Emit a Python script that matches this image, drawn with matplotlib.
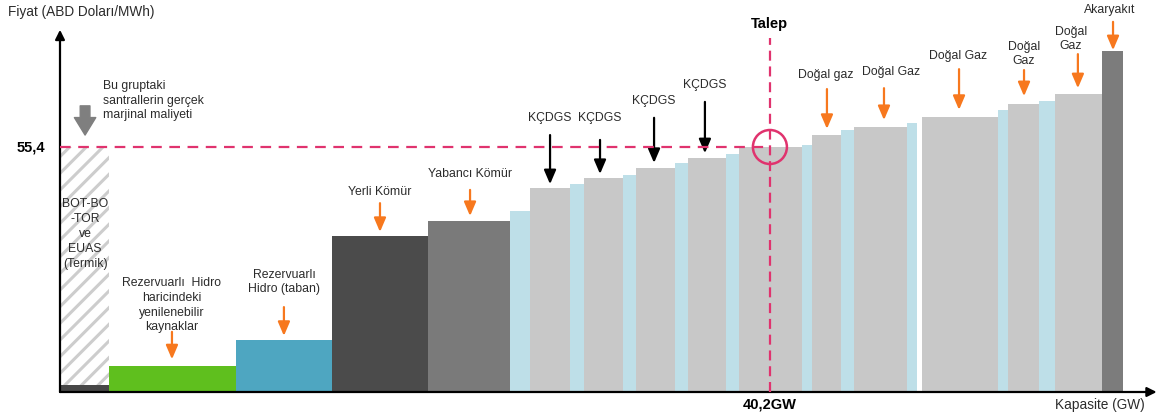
import numpy as np
import matplotlib
matplotlib.use('Agg')
import matplotlib.pyplot as plt
from matplotlib.patches import Ellipse

plt.rcParams['font.family'] = ['Liberation Sans', 'DejaVu Sans']
plt.rcParams['hatch.linewidth'] = 2.2

# merit order segments (left to right)
segment_types = ['BOT/EUAS', 'Yenilenebilir', 'Rez. Hidro', 'Yerli Kömür', 'Yabancı Kömür',
                 'Diğer', 'KÇDGS', 'Diğer', 'KÇDGS', 'Diğer', 'KÇDGS', 'Diğer', 'KÇDGS',
                 'Diğer', 'Doğal Gaz', 'Diğer', 'Doğal Gaz', 'Diğer', 'Doğal Gaz', 'Diğer',
                 'Boşluk', 'Doğal Gaz', 'Diğer', 'Doğal Gaz', 'Diğer', 'Doğal Gaz', 'Akaryakıt']
capacity_gw = [2.77, 7.20, 5.43, 5.44, 4.64, 1.13, 2.27, 0.79, 2.21, 0.74, 2.20, 0.74, 2.15,
               0.74, 3.57, 0.56, 1.64, 0.74, 3.00, 0.57, 0.28, 4.30, 0.57, 1.75, 0.91, 2.66, 1.19]
price_usd = [55.4, 5.9, 11.8, 35.3, 38.7, 40.9, 46.1, 47.0, 48.4, 49.1, 50.7, 51.8, 52.9,
             53.8, 55.4, 55.9, 58.1, 59.2, 59.9, 60.8, 0.0, 62.2, 63.8, 65.1, 65.8, 67.4, 77.1]
bot_actual_cost = 1.6
clearing_price = 55.4
demand_gw = 40.2

labels = ['Rezervuarlı  Hidro\nharicindeki\nyenilenebilir\nkaynaklar',
          'Rezervuarlı\nHidro (taban)', 'Yerli Kömür', 'Yabancı Kömür',
          'KÇDGS', 'KÇDGS', 'KÇDGS', 'KÇDGS',
          'Doğal gaz', 'Doğal Gaz', 'Doğal Gaz', 'Doğal\nGaz', 'Doğal\nGaz', 'Akaryakıt']

colors = {
    'Yenilenebilir': '#5fbf1e',
    'Rez. Hidro': '#4ea6c1',
    'Yerli Kömür': '#4b4b4b',
    'Yabancı Kömür': '#7a7a7a',
    'KÇDGS': '#c8c8c8',
    'Doğal Gaz': '#c8c8c8',
    'Diğer': '#bedfe8',
    'Akaryakıt': '#7c7c7c',
}
pink = '#e0336e'
orange = '#f7781e'
txt = '#2b2b2b'

fig = plt.figure(figsize=(11.57, 4.19), dpi=100)
ax = fig.add_axes([60 / 1157, 27 / 419, 1097 / 1157, 392 / 419])
ax.set_xlim(0, 62.12)
ax.set_ylim(0, 88.64)
ax.axis('off')

lefts = np.concatenate([[0], np.cumsum(capacity_gw)[:-1]])
for t, left, w, p in zip(segment_types, lefts, capacity_gw, price_usd):
    if t == 'Boşluk':
        continue
    if t == 'BOT/EUAS':
        ax.bar(left, p, w, align='edge', color='white', edgecolor='#cdcdcd',
               hatch='//', linewidth=0)
        ax.bar(left, bot_actual_cost, w, align='edge', color='#474747', linewidth=0)
    else:
        ax.bar(left, p, w, align='edge', color=colors[t], linewidth=0)

# axes with arrows
ax.annotate('', xy=(62.1, 0), xytext=(0, 0), annotation_clip=False,
            arrowprops=dict(arrowstyle='-|>', color='black', lw=1.6, mutation_scale=14,
                            shrinkA=0, shrinkB=0))
ax.annotate('', xy=(0, 81.9), xytext=(0, 0), annotation_clip=False,
            arrowprops=dict(arrowstyle='-|>', color='black', lw=1.6, mutation_scale=14,
                            shrinkA=0, shrinkB=0))

# price / demand lines
ax.plot([0, demand_gw], [clearing_price, clearing_price], color=pink, lw=1.6,
        dashes=(4.8, 3.4), zorder=5)
ax.plot([demand_gw, demand_gw], [0, 80.0], color=pink, lw=1.6, dashes=(4.5, 2.6), zorder=5)
ax.add_patch(Ellipse((demand_gw, clearing_price), 34 / 17.66, 34 / 4.4224, fill=False,
                     edgecolor=pink, lw=1.8, zorder=6))

ax.text(-2.94, 85.9, 'Fiyat (ABD Doları/MWh)', fontsize=9.8, color=txt, ha='left',
        va='center', clip_on=False)
ax.text(-0.85, clearing_price, f'{clearing_price}'.replace('.', ','),
        fontsize=10.5, fontweight='bold', color='black', ha='right', va='center')
ax.text(demand_gw, 83.2, 'Talep', fontsize=10.5, fontweight='bold', color='black',
        ha='center', va='center')
ax.text(demand_gw, -2.9, f'{demand_gw}GW'.replace('.', ','), fontsize=10.5,
        fontweight='bold', color='black', ha='center', va='center', clip_on=False)
ax.text(58.9, -2.9, 'Kapasite (GW)', fontsize=9.8, color=txt, ha='center', va='center',
        clip_on=False)

ax.text(2.43, 65.9, 'Bu gruptaki\nsantrallerin gerçek\nmarjinal maliyeti', fontsize=8.8,
        color=txt, ha='left', va='center', linespacing=1.3)
ax.annotate('', xy=(1.42, 58.1), xytext=(1.42, 64.7),
            arrowprops=dict(arrowstyle='simple,head_width=1.1,head_length=0.9,tail_width=0.5',
                            color='#7f7f7f', mutation_scale=14, shrinkA=0, shrinkB=0))
ax.text(1.42, 35.7, 'BOT-BO\n-TOR\nve\nEUAS\n(Termik)', fontsize=8.8, color=txt,
        ha='center', va='center', linespacing=1.33, zorder=4)

# labels with arrows: (text x, text y, arrow x, arrow start y, arrow end y)
label_pos = [(6.34, 19.6, 6.34, 13.6, 7.4), (12.68, 24.9, 12.68, 19.2, 12.7),
             (18.12, 45.2, 18.12, 42.7, 36.2), (23.22, 49.3, 23.22, 45.7, 39.8),
             (27.75, 62.0, 27.75, 58.1, 47.0), (30.58, 62.0, 30.58, 57.0, 49.3),
             (33.64, 65.8, 33.64, 62.0, 51.8), (36.52, 69.4, 36.52, 65.6, 54.0),
             (43.34, 71.7, 43.43, 68.5, 59.5), (47.06, 72.4, 46.66, 68.7, 61.5),
             (50.86, 76.0, 50.91, 73.0, 63.8), (54.59, 76.4, 54.59, 72.8, 66.9),
             (57.25, 79.8, 57.64, 76.4, 68.7), (59.46, 86.4, 59.63, 83.7, 77.3)]
for lab, (tx, ty, x, y0, y1) in zip(labels, label_pos):
    c = 'black' if lab == 'KÇDGS' else orange
    ax.text(tx, ty, lab, fontsize=8.8, color=txt, ha='center', va='center', linespacing=1.3)
    ax.annotate('', xy=(x, y1), xytext=(x, y0),
                arrowprops=dict(arrowstyle='-|>,head_width=0.3,head_length=0.7', color=c,
                                lw=1.6, mutation_scale=12, shrinkA=0, shrinkB=0))

fig.savefig('out.png', dpi=100)
